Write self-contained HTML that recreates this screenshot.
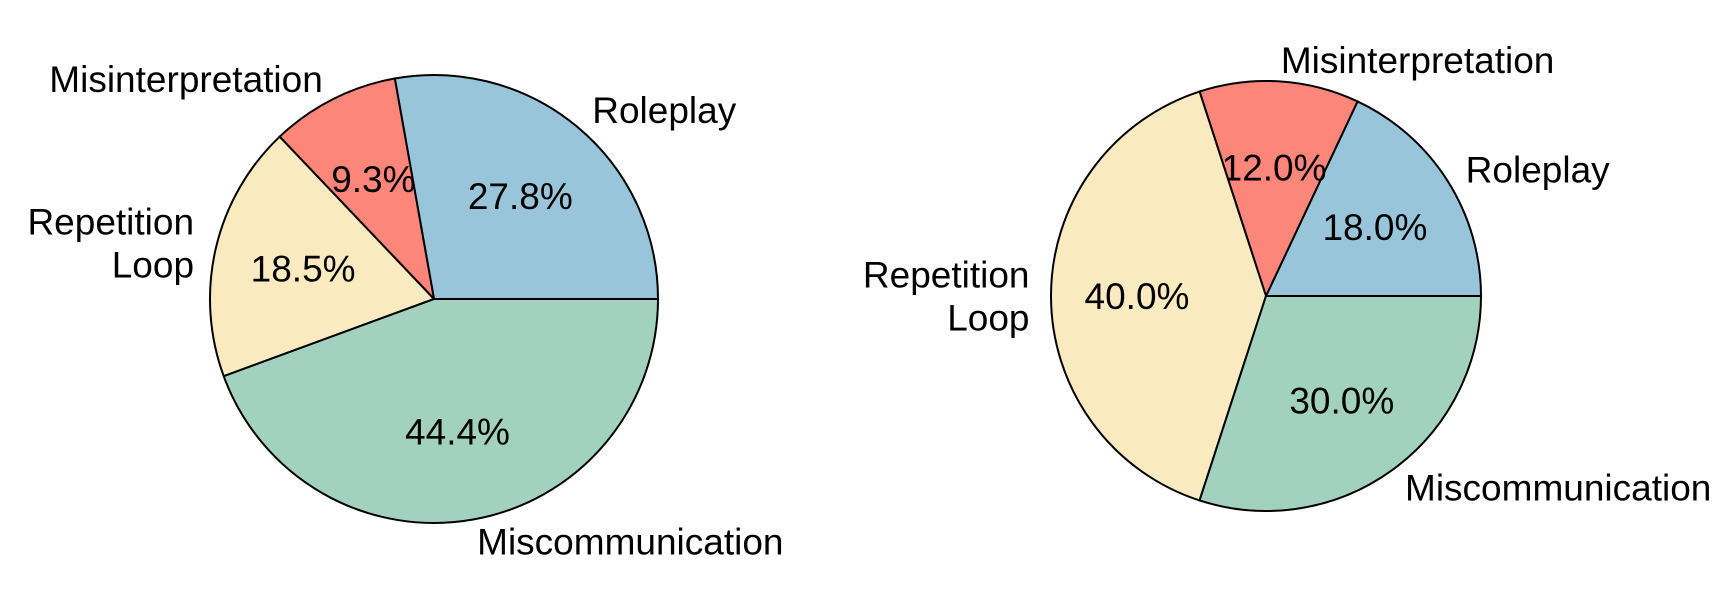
<!DOCTYPE html>
<html><head><meta charset="utf-8"><style>
body{margin:0;background:#fff;}
svg text{font-family:"Liberation Sans",Arial,sans-serif;font-size:37px;fill:#000;}
</style></head><body>
<svg width="1727" height="611" viewBox="0 0 1727 611">
<g id="left"></g>
<g id="right"></g>
</svg>
<script>
const categories = ["Roleplay", "Misinterpretation", "Repetition\nLoop", "Miscommunication"];
const leftValues = [27.8, 9.3, 18.5, 44.4];
const rightValues = [18.0, 12.0, 40.0, 30.0];
const colors = ["#99c5da", "#fd867b", "#f9ebbf", "#a3d1c0"];
const NS = "http://www.w3.org/2000/svg";
function drawPie(g, values, cx, cy, r) {
  const total = values.reduce((a, b) => a + b, 0);
  let a0 = 0;
  values.forEach((v, i) => {
    const a1 = a0 + v / total * 2 * Math.PI;
    const x0 = cx + r * Math.cos(a0), y0 = cy - r * Math.sin(a0);
    const x1 = cx + r * Math.cos(a1), y1 = cy - r * Math.sin(a1);
    const large = (a1 - a0) > Math.PI ? 1 : 0;
    const p = document.createElementNS(NS, "path");
    p.setAttribute("d", `M${cx},${cy} L${x0},${y0} A${r},${r} 0 ${large} 0 ${x1},${y1} Z`);
    p.setAttribute("fill", colors[i]);
    p.setAttribute("stroke", "#000");
    p.setAttribute("stroke-width", "2");
    
    
    g.appendChild(p);
    const m = (a0 + a1) / 2;
    const pt = document.createElementNS(NS, "text");
    pt.setAttribute("x", cx + 0.6 * r * Math.cos(m));
    pt.setAttribute("y", cy - 0.6 * r * Math.sin(m) + 13);
    pt.setAttribute("text-anchor", "middle");
    pt.textContent = v.toFixed(1) + "%";
    
    
    g.appendChild(pt);
    const lx = cx + 1.1 * r * Math.cos(m), ly = cy - 1.1 * r * Math.sin(m);
    const lines = categories[i].split("\n");
    const lt = document.createElementNS(NS, "text");
    lt.setAttribute("text-anchor", Math.cos(m) >= 0 ? "start" : "end");
    
    
    const lh = 43;
    lines.forEach((s, k) => {
      const ts = document.createElementNS(NS, "tspan");
      ts.setAttribute("x", lx);
      ts.setAttribute("y", ly + 13 + (k - (lines.length - 1) / 2) * lh);
      ts.textContent = s;
      lt.appendChild(ts);
    });
    g.appendChild(lt);
    a0 = a1;
  });
}
drawPie(document.getElementById("left"), leftValues, 434, 299, 224);
drawPie(document.getElementById("right"), rightValues, 1266, 296, 215);
</script>
</body></html>
